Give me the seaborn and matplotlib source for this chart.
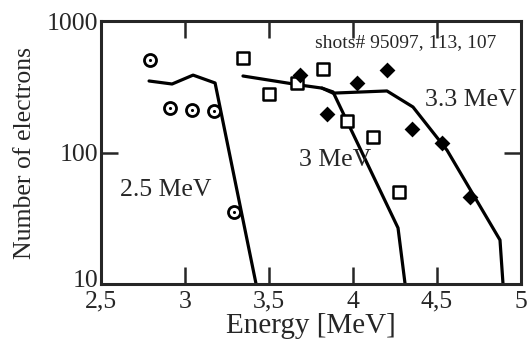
import numpy as np
import pandas as pd
import matplotlib
matplotlib.use("Agg")
import matplotlib.pyplot as plt
import matplotlib.transforms as mtransforms
import seaborn as sns
from matplotlib.ticker import FixedLocator, NullLocator

# measured points
circ_x = [2.79, 2.91, 3.04, 3.17, 3.29]
circ_y = [505, 218, 210, 207, 35]
sq_x = [3.345, 3.50, 3.667, 3.82, 3.964, 4.12, 4.274]
sq_y = [523, 279, 338, 431, 174, 131, 50]
dia_x = [3.685, 3.845, 4.024, 4.202, 4.351, 4.53, 4.696]
dia_y = [388, 196, 338, 424, 151, 118, 46]

# fitted curves
c25_x = [2.786, 2.923, 3.048, 3.179, 3.423]
c25_y = [350, 332, 388, 338, 10]
c30_x = [3.345, 3.685, 3.815, 3.881, 4.268, 4.31]
c30_y = [382, 326, 309, 289, 26.7, 10]
c33_x = [3.815, 3.881, 4.202, 4.357, 4.56, 4.875, 4.893]
c33_y = [309, 283, 294, 222, 104, 21.6, 10]

xticks = [2.5, 3, 3.5, 4, 4.5, 5]
xtick_labels = ["2,5", "3", "3,5", "4", "4,5", "5"]
yticks = [10, 100, 1000]

sns.set_style("ticks")
plt.rcParams['font.family'] = ['Liberation Serif', 'DejaVu Serif']
fs = 18.5

fig = plt.figure(figsize=(5.3, 3.45), dpi=100)
ax = fig.add_axes([0.1906, 0.1768, 0.7924, 0.7622])

curves = pd.concat([
    pd.DataFrame({'E': c25_x, 'N': c25_y, 'c': '2.5'}),
    pd.DataFrame({'E': c30_x, 'N': c30_y, 'c': '3'}),
    pd.DataFrame({'E': c33_x, 'N': c33_y, 'c': '3.3'}),
])
sns.lineplot(data=curves, x='E', y='N', units='c', estimator=None, sort=False,
             color='black', linewidth=2.3, ax=ax, legend=False)

circ = pd.DataFrame({'E': circ_x, 'N': circ_y})
sns.scatterplot(data=circ, x='E', y='N', marker='o', s=75, facecolor='white',
                edgecolor='black', linewidth=2.0, ax=ax, zorder=3)
sns.scatterplot(data=circ, x='E', y='N', marker='o', s=5, color='black',
                linewidth=0, ax=ax, zorder=4)
sq = pd.DataFrame({'E': sq_x, 'N': sq_y})
sns.scatterplot(data=sq, x='E', y='N', marker='s', s=85, facecolor='white',
                edgecolor='black', linewidth=1.8, ax=ax, zorder=3)
dia = pd.DataFrame({'E': dia_x, 'N': dia_y})
sns.scatterplot(data=dia, x='E', y='N', marker='D', s=65, color='black',
                linewidth=0, ax=ax, zorder=3)

ax.set_yscale('log')
ax.set_xlim(2.5, 5)
ax.set_ylim(10, 1000)
ax.xaxis.set_major_locator(FixedLocator(xticks))
ax.set_xticklabels(xtick_labels)
ax.yaxis.set_major_locator(FixedLocator(yticks))
ax.set_yticklabels([str(v) for v in yticks])
ax.yaxis.set_minor_locator(NullLocator())
ax.xaxis.set_minor_locator(NullLocator())

for s in ax.spines.values():
    s.set_linewidth(2.2)
    s.set_visible(True)
ax.tick_params(axis='both', direction='in', length=12, width=1.8,
               top=True, right=True, labelsize=fs)
ax.tick_params(axis='x', pad=5)
ax.tick_params(axis='y', pad=2)

# lift the "10" label a little so it sits above "2,5"
lab10 = ax.get_yticklabels()[0]
lab10.set_transform(lab10.get_transform() +
                    mtransforms.ScaledTranslation(0, 4 / 72, fig.dpi_scale_trans))

ax.set_xlabel('Energy [MeV]', fontsize=fs + 2.5, labelpad=0)
ax.set_ylabel('Number of electrons', fontsize=fs, labelpad=8)

ax.text(2.887, 52, '2.5 MeV', fontsize=fs, ha='center', va='center')
ax.text(3.893, 88, '3 MeV', fontsize=fs, ha='center', va='center')
ax.text(4.70, 250, '3.3 MeV', fontsize=fs, ha='center', va='center')
ax.text(4.315, 681, 'shots# 95097, 113, 107', fontsize=14, ha='center', va='center')

fig.savefig('out.png', dpi=100)
